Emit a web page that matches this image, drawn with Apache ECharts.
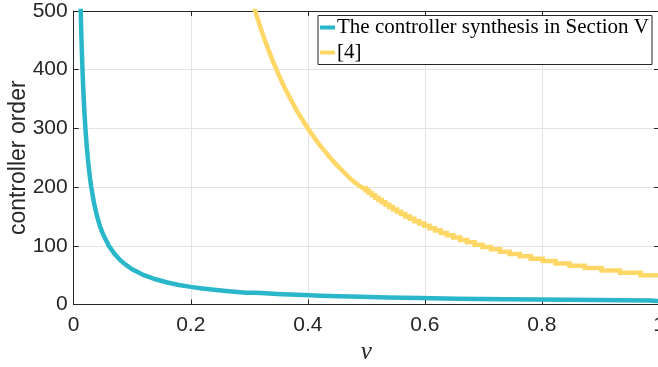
<!DOCTYPE html>
<html><head><meta charset="utf-8">
<script src="https://cdn.jsdelivr.net/npm/echarts@6/dist/echarts.min.js"></script>
<style>html,body{margin:0;padding:0;background:#fff}#c{width:658px;height:367px}</style>
</head><body><div id="c"></div>
<script>
// ---- data ----
const seriesNames = ['The controller synthesis in Section V', '[4]'];
const xTickValues = [0, 0.2, 0.4, 0.6, 0.8, 1];
const yTickValues = [0, 100, 200, 300, 400, 500];

// teal curve: smooth steep head
const tealHeadV = [0.011, 0.012, 0.013, 0.014, 0.015, 0.016, 0.018, 0.02, 0.022, 0.025, 0.028, 0.03, 0.035, 0.04, 0.045, 0.05, 0.06, 0.07, 0.08, 0.09, 0.10, 0.11, 0.12, 0.14, 0.16, 0.18, 0.20, 0.22, 0.24, 0.26, 0.28, 0.29];
const tealHeadN = [545, 500, 461, 429, 400, 375, 333, 300, 273, 240, 214, 200, 171, 150, 133, 120, 100, 86, 75, 67, 60, 55, 50, 43, 37.5, 33.3, 30, 27.3, 25, 23.1, 21.4, 20.5];
// teal curve: staircase tail (level edges, last entry is the end of the last level)
const tealStepV = [0.295, 0.3105, 0.3278, 0.3471, 0.3688, 0.3933, 0.4214, 0.4538, 0.4917, 0.5364, 0.59, 0.6556, 0.7375, 0.8429, 0.9833, 1.0];
const tealStepN = [20, 19, 18, 17, 16, 15, 14, 13, 12, 11, 10, 9, 8, 7, 6];

// yellow curve: smooth head
const yellowHeadV = [0.30, 0.305, 0.31, 0.32, 0.33, 0.34, 0.35, 0.36, 0.37, 0.38, 0.39, 0.40, 0.41, 0.42, 0.43, 0.44, 0.45, 0.46, 0.47, 0.48, 0.49];
const yellowHeadN = [533, 516, 500, 469, 441, 415, 392, 370, 351, 332, 316, 300, 286, 272, 260, 248, 237, 227, 217, 208, 201];
// yellow curve: staircase tail
const yellowStepV = [0.4940, 0.4990, 0.5042, 0.5095, 0.5150, 0.5207, 0.5266, 0.5327, 0.5390, 0.5455, 0.5523, 0.5593, 0.5666, 0.5742, 0.5821, 0.5904, 0.5990, 0.6080, 0.6175, 0.6273, 0.6377, 0.6486, 0.6601, 0.6722, 0.6850, 0.6986, 0.7130, 0.7283, 0.7447, 0.7622, 0.7810, 0.8013, 0.8233, 0.8471, 0.8732, 0.9018, 0.9335, 0.9687, 1.0];
const yellowStepN = [198, 194, 190, 186, 182, 178, 174, 170, 166, 162, 158, 154, 150, 146, 142, 138, 134, 130, 126, 122, 118, 114, 110, 106, 102, 98, 94, 90, 86, 82, 78, 74, 70, 66, 62, 58, 54, 50];

// ---- build series data ----
function build(headV, headN, stepV, stepN) {
  const d = headV.map((v, i) => [v, headN[i]]);
  for (let i = 0; i < stepN.length; i++) {
    d.push([stepV[i], stepN[i]]);
    d.push([stepV[i + 1], stepN[i]]);
  }
  return d;
}
const tealData = build(tealHeadV, tealHeadN, tealStepV, tealStepN);
const yellowData = build(yellowHeadV, yellowHeadN, yellowStepV, yellowStepN);

const ink = '#262626';
const gridCol = '#e4e4e4';
const sans = 'Liberation Sans';
const xMin = xTickValues[0], xMax = xTickValues[xTickValues.length - 1];
const yMin = yTickValues[0], yMax = yTickValues[yTickValues.length - 1];

function axisBase(min, max, interval) {
  return {
    type: 'value', min: min, max: max, interval: interval,
    axisLine: { show: true, onZero: false, lineStyle: { color: ink, width: 1 } },
    axisTick: { show: true, inside: true, length: 5, lineStyle: { color: ink, width: 1 } },
    splitLine: { show: false }
  };
}

const chart = echarts.init(document.getElementById('c'), null, { renderer: 'canvas' });
chart.setOption({
  animation: false,
  backgroundColor: '#ffffff',
  grid: { left: 73.7, right: -1, top: 11, bottom: 62.5, containLabel: false, outerBoundsMode: 'none' },
  legend: {
    data: seriesNames,
    orient: 'vertical',
    left: 318, top: 15.5,
    icon: 'rect', itemWidth: 15, itemHeight: 4, itemGap: 3,
    padding: [1, 3, 1, 2],
    backgroundColor: '#ffffff', borderColor: ink, borderWidth: 1, borderRadius: 0,
    textStyle: { fontFamily: 'Liberation Serif', fontSize: 21, color: '#000', lineHeight: 22, padding: [0, 0, 0, -3] }
  },
  xAxis: [
    Object.assign(axisBase(xMin, xMax, xTickValues[1] - xTickValues[0]), {
      position: 'bottom',
      axisLabel: { fontFamily: sans, fontSize: 21, color: ink, margin: 10 },
      splitLine: { show: true, lineStyle: { color: gridCol, width: 1 } },
      name: 'v', nameLocation: 'middle', nameGap: 32,
      nameTextStyle: { fontFamily: 'Liberation Serif', fontStyle: 'italic', fontSize: 25, color: ink }
    }),
    Object.assign(axisBase(xMin, xMax, xTickValues[1] - xTickValues[0]), {
      position: 'top', axisLabel: { show: false }
    })
  ],
  yAxis: [
    Object.assign(axisBase(yMin, yMax, yTickValues[1] - yTickValues[0]), {
      position: 'left',
      axisLabel: { fontFamily: sans, fontSize: 21, color: ink, margin: 6 },
      splitLine: { show: true, lineStyle: { color: gridCol, width: 1 } },
      name: 'controller order', nameLocation: 'middle', nameGap: 44, nameMoveOverlap: false,
      nameTextStyle: { fontFamily: sans, fontSize: 23, color: ink }
    }),
    Object.assign(axisBase(yMin, yMax, yTickValues[1] - yTickValues[0]), {
      position: 'right', axisLabel: { show: false }
    })
  ],
  series: [
    {
      name: seriesNames[1], type: 'line', xAxisIndex: 0, yAxisIndex: 0,
      data: yellowData, showSymbol: false, symbol: 'none', clip: true,
      color: '#FED766', lineStyle: { color: '#FED766', width: 4.5, join: 'miter' }, z: 2
    },
    {
      name: seriesNames[0], type: 'line', xAxisIndex: 0, yAxisIndex: 0,
      data: tealData, showSymbol: false, symbol: 'none', clip: true,
      color: '#2AB7CA', lineStyle: { color: '#2AB7CA', width: 4.5, join: 'miter' }, z: 3
    }
  ]
});
</script>
</body></html>
